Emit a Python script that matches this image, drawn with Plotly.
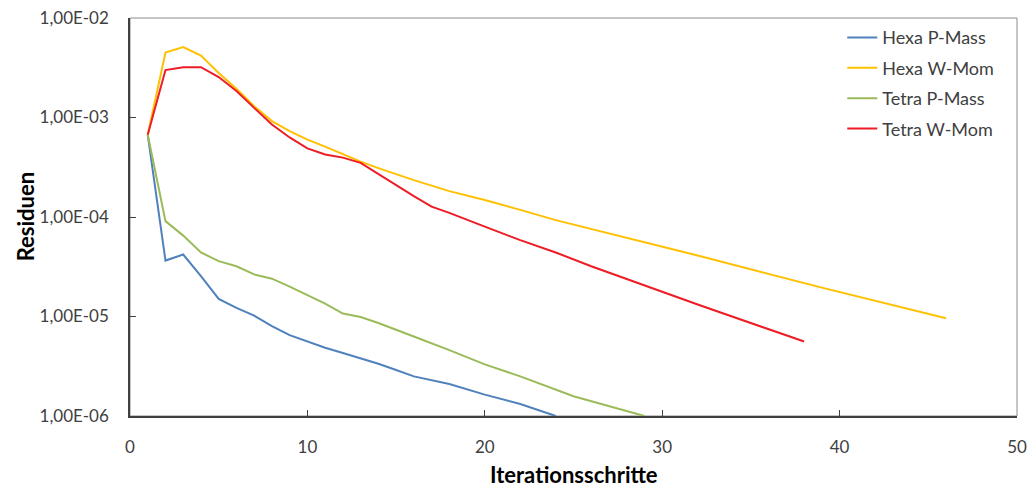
import plotly.graph_objects as go

# Data
hexa_p_x = [1, 2, 3, 4, 5, 6, 7, 8, 9, 10, 11, 12, 13, 14, 15, 16, 18, 20, 22, 24]
hexa_p_y = [6.7e-4, 3.65e-5, 4.2e-5, 2.55e-5, 1.5e-5, 1.22e-5, 1.02e-5, 8.0e-6, 6.5e-6, 5.6e-6,
            4.85e-6, 4.3e-6, 3.8e-6, 3.35e-6, 2.9e-6, 2.5e-6, 2.1e-6, 1.64e-6, 1.32e-6, 1.0e-6]

hexa_w_x = [1, 2, 3, 4, 5, 6, 7, 8, 9, 10, 11, 12, 13, 14, 15, 16, 18, 20, 22, 24, 32, 39, 46]
hexa_w_y = [6.7e-4, 4.5e-3, 5.1e-3, 4.2e-3, 2.8e-3, 1.95e-3, 1.3e-3, 9.2e-4, 7.3e-4, 6.0e-4,
            5.1e-4, 4.3e-4, 3.6e-4, 3.1e-4, 2.7e-4, 2.35e-4, 1.82e-4, 1.48e-4, 1.18e-4, 9.3e-5,
            4.1e-5, 1.95e-5, 9.6e-6]

tetra_p_x = [1, 2, 3, 4, 5, 6, 7, 8, 9, 10, 11, 12, 13, 14, 15, 16, 18, 20, 22, 25, 29]
tetra_p_y = [6.7e-4, 9.1e-5, 6.5e-5, 4.4e-5, 3.6e-5, 3.2e-5, 2.65e-5, 2.4e-5, 2.0e-5, 1.65e-5,
             1.35e-5, 1.07e-5, 9.9e-6, 8.6e-6, 7.3e-6, 6.3e-6, 4.6e-6, 3.3e-6, 2.5e-6, 1.58e-6, 1.0e-6]

tetra_w_x = [1, 2, 3, 4, 5, 6, 7, 8, 9, 10, 11, 12, 13, 14, 15, 16, 17, 18, 20, 22, 24, 26, 32, 38]
tetra_w_y = [6.7e-4, 3.0e-3, 3.2e-3, 3.2e-3, 2.55e-3, 1.85e-3, 1.25e-3, 8.5e-4, 6.3e-4, 4.9e-4,
             4.25e-4, 3.95e-4, 3.5e-4, 2.7e-4, 2.1e-4, 1.62e-4, 1.27e-4, 1.1e-4, 8.0e-5, 5.85e-5,
             4.4e-5, 3.2e-5, 1.32e-5, 5.6e-6]

series_names = ["Hexa P-Mass", "Hexa W-Mom", "Tetra P-Mass", "Tetra W-Mom"]
series_colors = ["#4F81BD", "#FFC000", "#9BBB59", "#EE1C25"]

y_tick_vals = [1e-6, 1e-5, 1e-4, 1e-3, 1e-2]
y_tick_text = ["1,00E-06", "1,00E-05", "1,00E-04", "1,00E-03", "1,00E-02"]
x_tick_vals = [0, 10, 20, 30, 40, 50]

x_title = "Iterationsschritte"
y_title = "Residuen"

font_family = "Lato, 'Open Sans', sans-serif"

fig = go.Figure()
for xs, ys, name, col in zip([hexa_p_x, hexa_w_x, tetra_p_x, tetra_w_x],
                             [hexa_p_y, hexa_w_y, tetra_p_y, tetra_w_y],
                             series_names, series_colors):
    fig.add_trace(go.Scatter(x=xs, y=ys, mode="lines", name=name, legendgroup=name,
                             line=dict(color=col, width=2)))

fig.update_layout(
    width=1029, height=487,
    margin=dict(l=130, r=12, t=18, b=71),
    paper_bgcolor="white", plot_bgcolor="white",
    font=dict(family=font_family, size=17, color="#404040"),
    legend=dict(x=0.803, y=0.997, xanchor="left", yanchor="top",
                bgcolor="rgba(0,0,0,0)", font=dict(size=18, color="#404040"),
                tracegroupgap=4, itemwidth=30),
    showlegend=True,
)
fig.update_xaxes(
    range=[0, 50], tickvals=x_tick_vals, showgrid=False, zeroline=False,
    showline=True, linecolor="#404040", linewidth=1.5,
    ticks="inside", ticklen=6, tickcolor="#404040",
    ticklabelstandoff=15, automargin=False, ticklabeloverflow="allow",
)
fig.update_yaxes(
    type="log", range=[-6, -2], tickvals=y_tick_vals, ticktext=y_tick_text,
    showgrid=False, zeroline=False,
    showline=True, linecolor="#404040", linewidth=1.5,
    ticks="inside", ticklen=6, tickcolor="#404040",
    ticklabelstandoff=16, automargin=False, ticklabeloverflow="allow",
)
fig.add_shape(type="rect", xref="paper", yref="paper", x0=0, y0=0, x1=1, y1=1,
              line=dict(color="#8C8C8C", width=1), layer="below")
fig.add_annotation(text="<b>" + x_title + "</b>", xref="paper", yref="paper",
                   x=0.5, y=-0.148, xanchor="center", yanchor="middle", showarrow=False,
                   font=dict(size=22, color="#000000", family=font_family))
fig.add_annotation(text="<b>" + y_title + "</b>", xref="paper", yref="paper",
                   x=-0.118, y=0.5, xanchor="center", yanchor="middle", showarrow=False,
                   textangle=-90,
                   font=dict(size=22, color="#000000", family=font_family))

# remove the default page margin so the figure fills the window exactly
fig.write_html("out.html",
               config={"displayModeBar": False},
               post_script="document.body.style.margin='0';document.body.style.overflow='hidden';")
